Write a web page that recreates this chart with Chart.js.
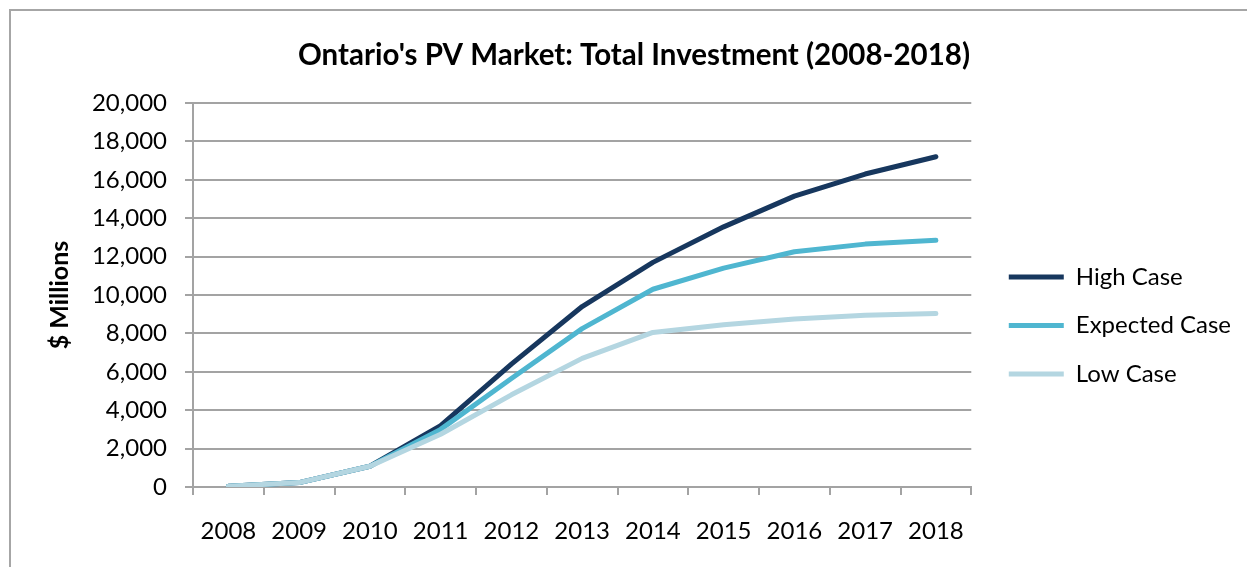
<!DOCTYPE html>
<html>
<head>
<meta charset="utf-8">
<script src="https://cdn.jsdelivr.net/npm/chart.js@4/dist/chart.umd.min.js"></script>
<style>
  body { margin: 0; background: #fff; }
  #wrap { position: relative; width: 1247px; height: 567px; overflow: hidden; }
  #frame { position: absolute; left: 9px; top: 9px; width: 1300px; height: 600px;
           border-left: 2px solid #a6a6a6; border-top: 2px solid #a6a6a6; }
  #mycanvas { position: absolute; left: 0; top: 0; }
</style>
</head>
<body>
<div id="wrap">
  <div id="frame"></div>
  <canvas id="mycanvas" width="1247" height="567"></canvas>
</div>
<script>
// data ($ millions, cumulative)
var years = ['2008', '2009', '2010', '2011', '2012', '2013', '2014', '2015', '2016', '2017', '2018'];
var highCase = [40, 230, 1080, 3200, 6400, 9400, 11700, 13550, 15150, 16300, 17200];
var expectedCase = [40, 230, 1080, 3000, 5650, 8250, 10300, 11400, 12250, 12650, 12850];
var lowCase = [40, 230, 1080, 2750, 4800, 6700, 8050, 8450, 8750, 8950, 9030];
var yTicks = { min: 0, max: 20000, step: 2000 };

var fontFamily = 'Lato, "Open Sans", sans-serif';
var gridColor = '#a3a3a3';

// move the legend block a little to sit where the original has it
var legendNudge = {
  id: 'legendNudge',
  afterUpdate: function (chart) {
    chart.legend.left += 13;
    chart.legend.right += 20;
    chart.legend.top += 52;
    chart.legend.bottom += 52;
  }
};

function lineSet(label, data, color, order) {
  return {
    label: label,
    data: data,
    borderColor: color,
    backgroundColor: color,
    borderWidth: 5,
    pointRadius: 0,
    pointHoverRadius: 0,
    tension: 0,
    borderCapStyle: 'round',
    borderJoinStyle: 'round',
    fill: false,
    order: order
  };
}

function draw() {
  var ctx = document.getElementById('mycanvas').getContext('2d');
  new Chart(ctx, {
    type: 'line',
    data: {
      labels: years,
      datasets: [
        lineSet('High Case', highCase, '#17375e', 2),
        lineSet('Expected Case', expectedCase, '#4fb6d0', 1),
        lineSet('Low Case', lowCase, '#b4d6e1', 0)
      ]
    },
    options: {
      responsive: false,
      animation: false,
      devicePixelRatio: 1,
      layout: { padding: { left: 40, right: 19, top: 0, bottom: 20 } },
      plugins: {
        title: {
          display: true,
          text: "Ontario's PV Market: Total Investment (2008-2018)",
          color: '#000',
          font: { family: fontFamily, size: 29.5, weight: 'bold' },
          padding: { top: 37.3, bottom: 30.3 }
        },
        legend: {
          position: 'right',
          align: 'center',
          labels: {
            usePointStyle: true,
            pointStyle: 'line',
            pointStyleWidth: 55,
            padding: 24.5,
            color: '#000',
            font: { family: fontFamily, size: 24 },
            sort: function (a, b) { return a.datasetIndex - b.datasetIndex; }
          }
        },
        tooltip: { enabled: false }
      },
      scales: {
        x: {
          offset: true,
          grid: { offset: true, drawOnChartArea: false, tickLength: 8, color: gridColor, lineWidth: 2 },
          border: { color: gridColor, width: 2 },
          ticks: { color: '#000', font: { family: fontFamily, size: 24 }, padding: 22, maxRotation: 0 },
          afterFit: function (scale) { scale.height = 60; }
        },
        y: {
          min: yTicks.min,
          max: yTicks.max,
          grid: { color: gridColor, lineWidth: 2, tickLength: 8 },
          border: { color: gridColor, width: 2 },
          ticks: { stepSize: yTicks.step, color: '#000', font: { family: fontFamily, size: 24 }, padding: 18 },
          title: {
            display: true,
            text: '$ Millions',
            color: '#000',
            font: { family: fontFamily, size: 25, weight: 'bold' },
            padding: { top: 5, bottom: 0 }
          },
          afterFit: function (scale) { scale.width = 153; }
        }
      }
    },
    plugins: [legendNudge]
  });
}

draw();
</script>
</body>
</html>
